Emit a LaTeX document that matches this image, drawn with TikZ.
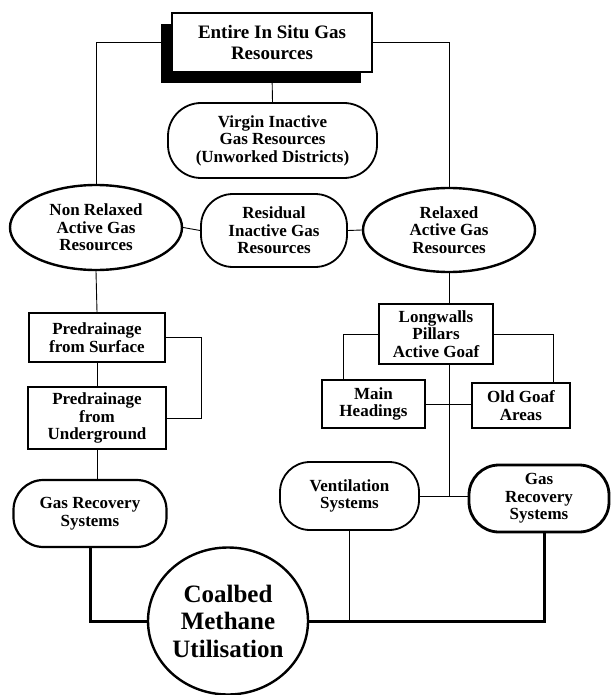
\documentclass[tikz,border=0pt]{standalone}
\usepackage{fontspec}
\setmainfont{Liberation Serif}
\usetikzlibrary{shapes.geometric, shadows}

\begin{document}
\begin{tikzpicture}[
    x=1pt, y=-1pt,
    txt/.style={font=\bfseries\fontsize{17}{17.5}\selectfont,
                align=center, inner sep=0pt},
    resbox/.style={draw, line width=1.8pt, txt},
    pill/.style={draw, line width=1.8pt, rounded corners=30pt, txt},
    oval/.style={draw, ellipse, line width=2.4pt, txt},
    link/.style={line width=0.9pt},
    feed/.style={line width=3pt}
  ]
  \useasboundingbox (0,0) rectangle (611,695);

  \node[resbox, line width=2.6pt, fill=white, minimum width=200pt,
        minimum height=59pt, font=\bfseries\fontsize{19}{21.5}\selectfont,
        drop shadow={shadow xshift=-11pt, shadow yshift=-11pt,
                     fill=black, opacity=1}]
    (entire) at (272,42.5) {Entire In Situ Gas\\Resources};
  \node[pill, rounded corners=33pt, minimum width=209pt,
        minimum height=75pt] (virgin) at (272.5,140.5)
    {Virgin Inactive\\Gas Resources\\(Unworked Districts)};

  \node[oval, minimum width=172pt, minimum height=85pt]
    (nonrel) at (96,227.5) {Non Relaxed\\Active Gas\\Resources};
  \node[pill, rounded corners=32pt, minimum width=146pt,
        minimum height=73pt] (resid) at (274,230.5)
    {Residual\\Inactive Gas\\Resources};
  \node[oval, minimum width=172pt, minimum height=84pt]
    (relax) at (449,230) {Relaxed\\Active Gas\\Resources};

  % left branch
  \node[resbox, minimum width=136pt, minimum height=49pt]
    (surface) at (97,337.5) {Predrainage\\from Surface};
  \node[resbox, minimum width=138pt, minimum height=62pt]
    (underg) at (97,418) {Predrainage\\from\\Underground};
  \node[pill, line width=2.2pt, minimum width=153pt, minimum height=67pt]
    (gasleft) at (90,513.5) {Gas Recovery\\Systems};

  % right branch
  \node[resbox, minimum width=114pt, minimum height=60pt]
    (longw) at (436,334) {Longwalls\\Pillars\\Active Goaf};
  \node[resbox, minimum width=103pt, minimum height=48pt]
    (headings) at (373.5,404) {Main\\Headings};
  \node[resbox, minimum width=98pt, minimum height=45pt]
    (oldgoaf) at (521,405.5) {Old Goaf\\Areas};
  \node[pill, minimum width=139pt, minimum height=68pt]
    (vent) at (349.5,496) {Ventilation\\Systems};
  \node[pill, line width=2.8pt, minimum width=140pt, minimum height=67pt]
    (gasright) at (539,498.5) {Gas\\Recovery\\Systems};

  \node[oval, minimum width=160pt, minimum height=147pt,
        font=\bfseries\fontsize{25}{27.5}\selectfont]
    (cbm) at (228,621) {Coalbed\\Methane\\Utilisation};

  \draw[link] (entire.west) -| (nonrel.north);
  \draw[link] (entire.east) -| (relax.north);
  \draw[link] (entire.south) -- (virgin.north);
  \draw[link] (nonrel.east) -- (resid.west);
  \draw[link] (resid.east) -- (relax.west);
  \draw[link] (nonrel.south) -- (surface.north);
  \draw[link] (surface.south) -- (underg.north);
  \draw[link] (surface.east) -- ++(36,0) |- (underg.east);
  \draw[link] (underg.south) -- (underg.south |- gasleft.north);
  \draw[link] (relax.south) -- (relax.south |- longw.north);
  \draw[link] (longw.west) -| ([xshift=-30pt]headings.north);
  \draw[link] (longw.east) -| ([xshift=32pt]oldgoaf.north);
  \draw[link] (headings.east) -- (headings.east -| oldgoaf.west);
  \draw[link] (relax.south |- longw.south) -- (relax.south |- vent.east);
  \draw[link] (vent.east) -- (vent.east -| gasright.west);
  \draw[link] (vent.south) -- (vent.south |- cbm.east);
  \draw[feed] (gasleft.south) |- (cbm.west);
  \draw[feed] (cbm.east) -| ([xshift=5pt]gasright.south);
\end{tikzpicture}
\end{document}
